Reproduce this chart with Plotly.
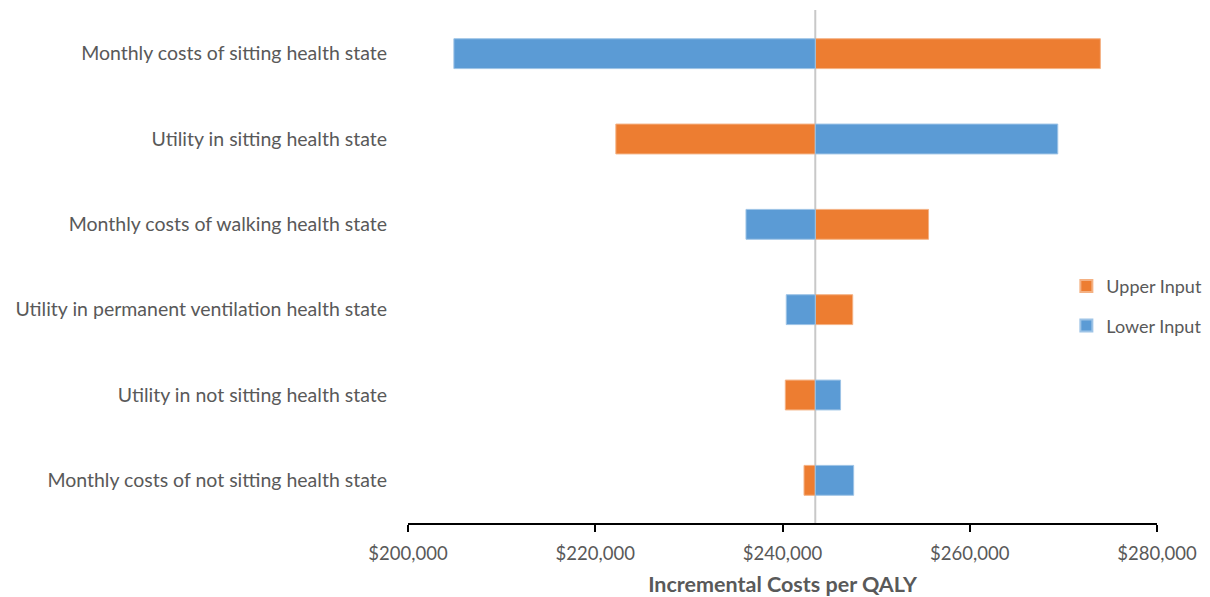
import plotly.graph_objects as go

categories = [
    "Monthly costs of sitting health state",
    "Utility in sitting health state",
    "Monthly costs of walking health state",
    "Utility in permanent ventilation health state",
    "Utility in not sitting health state",
    "Monthly costs of not sitting health state",
]
base_icer = 243500
upper_input = [273950, 222200, 255600, 247500, 240300, 242300]
lower_input = [204900, 269400, 236100, 240400, 246200, 247600]
tick_vals = [200000, 220000, 240000, 260000, 280000]
tick_text = ["$200,000", "$220,000", "$240,000", "$260,000", "$280,000"]

ORANGE = "#ED7D31"
BLUE = "#5B9BD5"
FONT = "Lato"
GREY = "#595959"

fig = go.Figure()
fig.add_trace(go.Bar(
    name="Upper Input", y=categories, x=[v - base_icer for v in upper_input],
    base=base_icer, orientation="h", legendgroup="u",
    marker=dict(color=ORANGE, line=dict(color="#F4B183", width=1)),
    width=0.35,
))
fig.add_trace(go.Bar(
    name="Lower Input", y=categories, x=[v - base_icer for v in lower_input],
    base=base_icer, orientation="h", legendgroup="l",
    marker=dict(color=BLUE, line=dict(color="#9DC3E6", width=1)),
    width=0.35,
))

fig.add_shape(type="line", xref="x", yref="paper", x0=base_icer, x1=base_icer, y0=0, y1=1.002,
              line=dict(color="#C8C8C8", width=2), layer="below")

# page body has an 8px default margin, so the figure is 8px smaller each way
fig.update_layout(
    barmode="overlay",
    width=1202, height=589,
    margin=dict(l=400, r=53, t=3, b=74, autoexpand=False),
    paper_bgcolor="white", plot_bgcolor="white",
    font=dict(family=FONT, color=GREY, size=19),
    showlegend=True,
    legend=dict(x=0.879, y=0.424, xanchor="left", yanchor="middle",
                font=dict(size=18, color=GREY), traceorder="grouped",
                itemsizing="constant", itemwidth=30, tracegroupgap=13, bgcolor="rgba(0,0,0,0)"),
)
fig.update_xaxes(
    range=[200000, 280000], tickvals=tick_vals, ticktext=tick_text,
    showgrid=False, zeroline=False, showline=True, linecolor="black", linewidth=2,
    ticks="outside", ticklen=7, tickwidth=2, tickcolor="black", automargin=False,
    tickfont=dict(size=18.5, color=GREY, family=FONT), ticklabelstandoff=6,
    title=dict(text="<b>Incremental Costs per QALY</b>", font=dict(size=21.5, color=GREY, family=FONT), standoff=21),
)
fig.update_yaxes(
    categoryorder="array", categoryarray=categories, autorange="reversed",
    showgrid=False, zeroline=False, showline=False, ticks="", automargin=False,
    tickfont=dict(size=19.5, color=GREY, family=FONT), ticklabelstandoff=20,
)

fig.write_html("out.html")
